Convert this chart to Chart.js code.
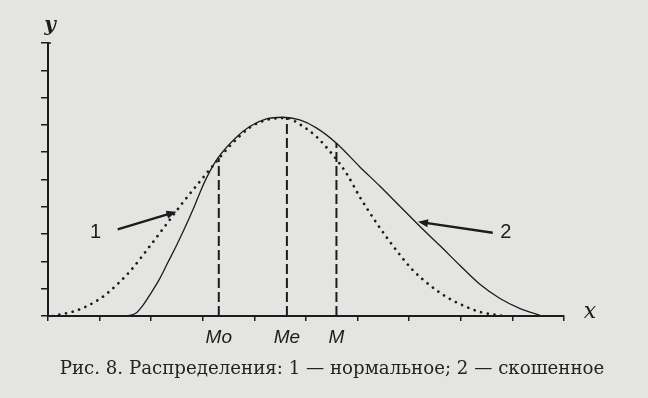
<!DOCTYPE html>
<html>
<head>
<meta charset="utf-8">
<script src="https://cdn.jsdelivr.net/npm/chart.js@4/dist/chart.umd.min.js"></script>
<style>
    body { margin: 0; background: #e4e4e2; }
    #wrap { position: relative; width: 648px; height: 398px; }
    #caption {
        position: absolute; left: 8px; top: 357px; width: 648px;
        text-align: center; white-space: nowrap;
        font-family: "DejaVu Serif", serif; font-size: 17px; color: #232323;
    }
</style>
</head>
<body>
<div id="wrap">
    <canvas id="myChart" width="648" height="398"></canvas>
    <div id="caption"><span id="capText">Рис. 8. Распределения: 1 — нормальное; 2 — скошенное</span></div>
</div>
<script>
// curve 1: normal distribution (dotted)
const normalX = [0.09, 0.55, 0.94, 1.19, 1.58, 1.97, 2.29, 2.61, 2.94, 3.26, 3.52, 3.91, 4.23, 4.62, 4.88, 5.20, 5.52, 5.78, 6.04, 6.37, 6.75, 7.07, 7.40, 7.72, 8.04, 8.37, 8.82];
const normalY = [0.00, 0.20, 0.55, 0.90, 1.62, 2.55, 3.35, 4.15, 4.92, 5.65, 6.22, 6.90, 7.18, 7.25, 7.02, 6.57, 5.90, 5.24, 4.37, 3.40, 2.41, 1.68, 1.13, 0.70, 0.39, 0.15, 0.00];

// curve 2: skewed distribution (solid)
const skewX = [1.52, 1.70, 1.84, 2.00, 2.16, 2.32, 2.49, 2.65, 2.81, 2.94, 3.07, 3.29, 3.65, 3.91, 4.23, 4.55, 4.88, 5.20, 5.59, 6.04, 6.43, 6.82, 7.21, 7.60, 7.98, 8.37, 8.76, 9.15, 9.53];
const skewY = [0.00, 0.10, 0.39, 0.85, 1.35, 1.95, 2.58, 3.22, 3.90, 4.50, 5.05, 5.78, 6.55, 6.94, 7.22, 7.28, 7.18, 6.89, 6.33, 5.47, 4.76, 4.02, 3.28, 2.57, 1.86, 1.16, 0.64, 0.27, 0.03];

// Mo, Me, M
const markNames = ["Mo", "Me", "M"];
const markX = [3.31, 4.63, 5.59];
const markTop = [5.79, 7.26, 6.34];

// pointer arrows
const arrowLabels = ["1", "2"];
const arrowFromX = [1.35, 8.62];
const arrowFromY = [3.17, 3.05];
const arrowToX = [2.49, 7.17];
const arrowToY = [3.82, 3.45];
const labelX = [0.92, 8.87];
const labelY = [3.07, 3.07];

const ink = "#1c1c1c";

function toPoints(xs, ys) {
    return xs.map((x, i) => ({x: x, y: ys[i]}));
}

const datasets = [
    {
        data: toPoints(normalX, normalY),
        borderColor: ink,
        borderWidth: 2.7,
        borderDash: [0.01, 6.8],
        borderCapStyle: "round",
        cubicInterpolationMode: "monotone"
    },
    {
        data: toPoints(skewX, skewY),
        borderColor: ink,
        borderWidth: 1.3,
        cubicInterpolationMode: "monotone"
    }
];
markX.forEach((x, i) => {
    datasets.push({
        data: [{x: x, y: 0}, {x: x, y: markTop[i]}],
        borderColor: ink,
        borderWidth: 2,
        borderDash: [10, 4]
    });
});

const annotations = {
    id: "annotations",
    afterDraw(chart) {
        const ctx = chart.ctx;
        const xs = chart.scales.x;
        const ys = chart.scales.y;
        ctx.save();
        ctx.fillStyle = ink;
        ctx.strokeStyle = ink;

        // Mo / Me / M under the axis
        ctx.font = "italic 19px 'Liberation Sans'";
        ctx.textAlign = "center";
        ctx.textBaseline = "middle";
        markNames.forEach((name, i) => {
            ctx.fillText(name, xs.getPixelForValue(markX[i]), ys.bottom + 22);
        });

        // axis names
        ctx.font = "italic bold 20px 'DejaVu Serif'";
        ctx.fillText("y", xs.left + 2, ys.top - 17);
        ctx.font = "italic 22px 'DejaVu Serif'";
        ctx.fillText("x", xs.right + 26, ys.bottom - 4);

        // top hook of the y axis
        ctx.lineWidth = 1.5;
        ctx.beginPath();
        ctx.moveTo(xs.left, ys.top);
        ctx.lineTo(xs.left + 3, ys.top);
        ctx.stroke();

        // arrows and numbers
        ctx.lineWidth = 2.4;
        arrowLabels.forEach((lab, i) => {
            const x1 = xs.getPixelForValue(arrowFromX[i]);
            const y1 = ys.getPixelForValue(arrowFromY[i]);
            const x2 = xs.getPixelForValue(arrowToX[i]);
            const y2 = ys.getPixelForValue(arrowToY[i]);
            const a = Math.atan2(y2 - y1, x2 - x1);
            ctx.beginPath();
            ctx.moveTo(x1, y1);
            ctx.lineTo(x2 - 6 * Math.cos(a), y2 - 6 * Math.sin(a));
            ctx.stroke();
            ctx.beginPath();
            ctx.moveTo(x2, y2);
            ctx.lineTo(x2 - 10 * Math.cos(a) + 4 * Math.sin(a), y2 - 10 * Math.sin(a) - 4 * Math.cos(a));
            ctx.lineTo(x2 - 10 * Math.cos(a) - 4 * Math.sin(a), y2 - 10 * Math.sin(a) + 4 * Math.cos(a));
            ctx.closePath();
            ctx.fill();

            ctx.font = "20px 'Liberation Sans'";
            ctx.fillText(lab, xs.getPixelForValue(labelX[i]), ys.getPixelForValue(labelY[i]));
        });
        ctx.restore();
    }
};

const ctx = document.getElementById("myChart").getContext("2d");
const myChart = new Chart(ctx, {
    type: "scatter",
    data: { datasets: datasets },
    options: {
        responsive: false,
        animation: false,
        showLine: true,
        elements: { point: { radius: 0 } },
        layout: { padding: { top: 43, right: 84, left: 0, bottom: 0 } },
        plugins: { legend: { display: false }, tooltip: { enabled: false } },
        scales: {
            x: {
                type: "linear", min: 0, max: 10,
                ticks: { stepSize: 1, display: false },
                grid: { drawOnChartArea: false, drawTicks: true, tickLength: 5, color: ink, lineWidth: 1.5 },
                border: { display: true, color: ink, width: 2 },
                afterFit: function(scale) { scale.height = 82; }
            },
            y: {
                min: 0, max: 10,
                ticks: { stepSize: 1, display: false },
                grid: { drawOnChartArea: false, drawTicks: true, tickLength: 7, color: ink, lineWidth: 1.5 },
                border: { display: true, color: ink, width: 2 },
                afterFit: function(scale) { scale.width = 48; }
            }
        }
    },
    plugins: [annotations]
});

// fit the caption to the printed width
const cap = document.getElementById("capText");
const w = cap.getBoundingClientRect().width;
document.getElementById("caption").style.fontSize = (17 * 545 / w).toFixed(2) + "px";
</script>
</body>
</html>
